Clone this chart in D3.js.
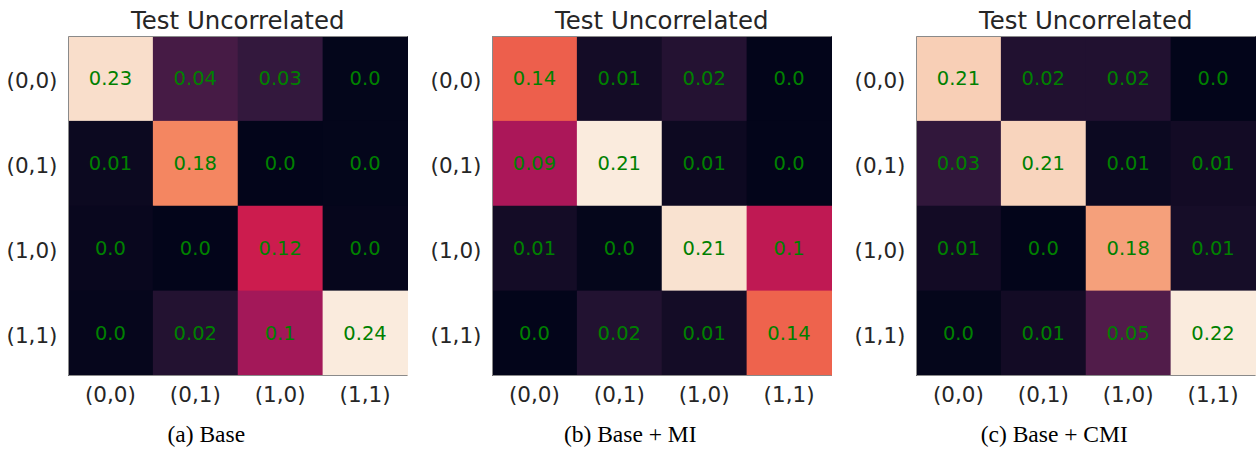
<!DOCTYPE html>
<html>
<head>
<meta charset="utf-8">
<script src="https://cdn.jsdelivr.net/npm/d3@7"></script>
<style>
  body { margin: 0; background: #fff; }
  svg { display: block; }
</style>
</head>
<body>
<svg width="1257" height="449"></svg>
<script>
// labels for both axes
const categories = ["(0,0)", "(0,1)", "(1,0)", "(1,1)"];
const title = "Test Uncorrelated";
const captions = ["(a) Base", "(b) Base + MI", "(c) Base + CMI"];

// joint probabilities, rows = y categories, cols = x categories
const baseValues = [
  [0.232, 0.044, 0.033, 0.001],
  [0.006, 0.18, 0.0, 0.001],
  [0.004, 0.0, 0.121, 0.002],
  [0.002, 0.022, 0.097, 0.24]
];
const miValues = [
  [0.141, 0.01, 0.02, 0.0],
  [0.09, 0.212, 0.006, 0.0],
  [0.01, 0.001, 0.207, 0.1],
  [0.0, 0.019, 0.01, 0.143]
];
const cmiValues = [
  [0.206, 0.019, 0.019, 0.0],
  [0.029, 0.209, 0.006, 0.01],
  [0.01, 0.0, 0.18, 0.012],
  [0.001, 0.01, 0.047, 0.222]
];
const panels = [baseValues, miValues, cmiValues];

// seaborn "rocket" colormap anchors (position, colour)
const rocketStops = [0, 1 / 7, 2 / 7, 3 / 7, 0.5, 4 / 7, 5 / 7, 6 / 7, 1];
const rocketColors = ["#03051a", "#35193e", "#701f57", "#ad1759", "#cb1b4f", "#e13342", "#f37651", "#f6b48f", "#faebdd"];
const rocket = d3.scaleLinear().domain(rocketStops).range(rocketColors).interpolate(d3.interpolateRgb);

const svg = d3.select("svg");
const size = 339.5;
const left0 = 68, top0 = 36, step = 424;

// python-like str(round(v, 2))
const fmt = (v) => {
  const r = Math.round(v * 100) / 100;
  return Number.isInteger(r) ? r.toFixed(1) : String(r);
};

panels.forEach((vals, i) => {
  const x0 = left0 + i * step;
  const x = d3.scaleBand().domain(categories).range([x0, x0 + size]);
  const y = d3.scaleBand().domain(categories).range([top0, top0 + size]);
  const [lo, hi] = d3.extent(vals.flat());
  const norm = d3.scaleLinear().domain([lo, hi]).range([0, 1]);

  const g = svg.append("g");
  const cells = vals.flatMap((row, r) =>
    row.map((v, c) => ({ row: categories[r], col: categories[c], v }))
  );

  g.selectAll("rect.cell")
    .data(cells)
    .join("rect")
    .attr("class", "cell")
    .attr("x", (d) => x(d.col))
    .attr("y", (d) => y(d.row))
    .attr("width", x.bandwidth() + 0.5)
    .attr("height", y.bandwidth() + 0.5)
    .attr("fill", (d) => rocket(norm(d.v)));

  g.selectAll("text.annot")
    .data(cells)
    .join("text")
    .attr("class", "annot")
    .attr("x", (d) => x(d.col) + x.bandwidth() / 2)
    .attr("y", (d) => y(d.row) + y.bandwidth() / 2 + 6.8)
    .attr("text-anchor", "middle")
    .attr("font-family", "DejaVu Sans")
    .attr("font-size", 19.5)
    .attr("fill", "green")
    .text((d) => fmt(d.v));

  // frame lines (top, left, bottom)
  const frame = d3.path();
  frame.moveTo(x0 + size, top0 + 0.5);
  frame.lineTo(x0 + 0.5, top0 + 0.5);
  frame.lineTo(x0 + 0.5, top0 + size);
  frame.lineTo(x0 + size, top0 + size);
  g.append("path")
    .attr("d", frame.toString())
    .attr("fill", "none")
    .attr("stroke", "#8a8a8a")
    .attr("stroke-width", 1);

  // axes
  const xAxis = g.append("g")
    .attr("transform", `translate(0,${top0 + size})`)
    .call(d3.axisBottom(x).tickSize(0).tickPadding(0));
  xAxis.select(".domain").remove();
  xAxis.selectAll("text")
    .attr("y", 26.5)
    .attr("dy", null)
    .attr("font-family", "DejaVu Sans")
    .attr("font-size", 21.5)
    .attr("fill", "#262626");

  const yAxis = g.append("g")
    .attr("transform", `translate(${x0},0)`)
    .call(d3.axisLeft(y).tickSize(0).tickPadding(0));
  yAxis.select(".domain").remove();
  yAxis.selectAll("text")
    .attr("x", -10.5)
    .attr("dy", null)
    .attr("y", 10)
    .attr("font-family", "DejaVu Sans")
    .attr("font-size", 21.5)
    .attr("fill", "#262626");

  g.append("text")
    .attr("x", x0 + size / 2)
    .attr("y", 29)
    .attr("text-anchor", "middle")
    .attr("font-family", "DejaVu Sans")
    .attr("font-size", 24.4)
    .attr("fill", "#262626")
    .text(title);

  g.append("text")
    .attr("x", x0 + size / 2 - 31.5)
    .attr("y", 441.5)
    .attr("text-anchor", "middle")
    .attr("font-family", "Liberation Serif")
    .attr("font-size", 23.5)
    .attr("fill", "#000")
    .text(captions[i]);
});
</script>
</body>
</html>
